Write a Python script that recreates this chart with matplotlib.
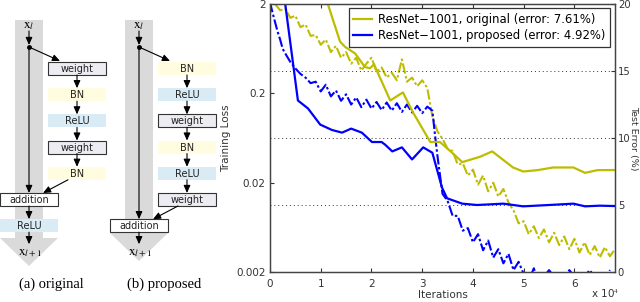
import matplotlib.pyplot as plt
import matplotlib.patches as mpatches
from matplotlib.ticker import NullLocator

plt.rcParams['mathtext.fontset'] = 'stix'

# ---- data ----
# residual unit layouts
unit_original = ['weight', 'BN', 'ReLU', 'weight', 'BN']
unit_proposed = ['BN', 'ReLU', 'weight', 'BN', 'ReLU', 'weight']
captions = ['(a) original', '(b) proposed']

# training loss (left, log axis), iterations in units of 1e4
orig_train_x = [0.1, 0.2, 0.3, 0.4, 0.5, 0.6, 0.7, 0.8, 0.9, 1.0,
                1.1, 1.2, 1.3, 1.4, 1.5, 1.6, 1.7, 1.8, 1.9, 2.0,
                2.1, 2.2, 2.3, 2.4, 2.5, 2.6, 2.7, 2.8, 2.9, 3.0,
                3.1, 3.2, 3.3, 3.4, 3.5, 3.6, 3.7, 3.8, 3.9, 4.0,
                4.1, 4.2, 4.3, 4.4, 4.5, 4.6, 4.7, 4.8, 4.9, 5.0,
                5.1, 5.2, 5.3, 5.4, 5.5, 5.6, 5.7, 5.8, 5.9, 6.0,
                6.1, 6.2, 6.3, 6.4, 6.5, 6.6, 6.7, 6.8]
orig_train_loss = [2.0, 1.70, 1.78, 1.40, 1.48, 1.10, 1.18, 0.88, 0.90, 0.70,
                   0.80, 0.58, 0.68, 0.50, 0.58, 0.43, 0.50, 0.36, 0.43, 0.50,
                   0.35, 0.39, 0.30, 0.34, 0.28, 0.48, 0.27, 0.30, 0.24, 0.28,
                   0.23, 0.11, 0.075, 0.062, 0.048, 0.045, 0.032, 0.033, 0.024, 0.028,
                   0.019, 0.024, 0.016, 0.020, 0.014, 0.017, 0.012, 0.0098, 0.0070, 0.0074,
                   0.0053, 0.0065, 0.0048, 0.0060, 0.0043, 0.0055, 0.0040, 0.0050, 0.0036, 0.0047,
                   0.0033, 0.0043, 0.0031, 0.0039, 0.0029, 0.0038, 0.0030, 0.0036]

prop_train_x = [0.00, 0.05, 0.10, 0.15, 0.20, 0.25, 0.30,
                0.4, 0.5, 0.6, 0.7, 0.8, 0.9, 1.0, 1.1, 1.2, 1.3,
                1.4, 1.5, 1.6, 1.7, 1.8, 1.9, 2.0, 2.1, 2.2, 2.3,
                2.4, 2.5, 2.6, 2.7, 2.8, 2.9, 3.0, 3.1, 3.2,
                3.25, 3.30,
                3.4, 3.5, 3.6, 3.7, 3.8, 3.9, 4.0, 4.1, 4.2, 4.3,
                4.4, 4.5, 4.6, 4.7, 4.8, 4.9, 5.0, 5.1, 5.2, 5.3,
                5.5, 5.7, 5.9, 6.1, 6.3, 6.5, 6.7]
prop_train_loss = [2.1, 1.6, 1.25, 0.98, 0.80, 0.63, 0.56,
                   0.45, 0.38, 0.33, 0.30, 0.26, 0.27, 0.21, 0.25, 0.185, 0.215,
                   0.165, 0.195, 0.15, 0.18, 0.14, 0.17, 0.135, 0.16, 0.13, 0.158,
                   0.128, 0.155, 0.124, 0.15, 0.122, 0.145, 0.12, 0.142, 0.128,
                   0.070, 0.040,
                   0.0150, 0.0125, 0.0085, 0.0085, 0.0058, 0.0062, 0.0043, 0.0053, 0.0035, 0.0045,
                   0.0029, 0.0036, 0.0025, 0.0032, 0.0021, 0.0026, 0.0019, 0.0016, 0.0022, 0.0015,
                   0.0021, 0.0015, 0.0021, 0.0015, 0.0021, 0.0015, 0.0021]

# test error (right axis, %)
orig_err_x = [1.10, 1.14, 1.38, 1.48, 1.68, 1.87, 1.97, 2.05, 2.37, 2.62, 2.82, 3.16, 3.35,
              3.59, 3.79, 4.14, 4.38, 4.79, 4.99, 5.27, 5.58, 5.98, 6.21, 6.45, 6.80]
orig_err = [22.0, 20.0, 17.2, 16.8, 16.3, 15.3, 15.2, 15.5, 12.8, 13.4, 11.9, 9.7, 9.7,
            8.9, 8.2, 8.6, 9.0, 7.8, 7.5, 7.6, 7.8, 7.8, 7.4, 7.6, 7.61]

prop_err_x = [0.20, 0.30, 0.55, 0.75, 0.99, 1.22, 1.42, 1.60, 1.81, 2.01, 2.20, 2.27, 2.41, 2.60,
              2.80, 3.02, 3.20, 3.39, 3.49, 3.79, 4.08, 4.60, 4.99, 5.50, 5.98, 6.21, 6.50, 6.80]
prop_err = [25.0, 20.0, 12.8, 12.2, 11.0, 10.6, 10.4, 10.7, 10.4, 9.7, 9.7, 9.5, 9.0, 9.3,
            8.4, 9.3, 8.9, 6.3, 5.5, 5.1, 5.0, 5.1, 4.9, 5.0, 5.1, 4.9, 4.95, 4.92]

legend_labels = ['ResNet\u22121001, original (error: 7.61%)',
                 'ResNet\u22121001, proposed (error: 4.92%)']

yellow = '#BDBD00'
blue = '#0000FF'

fig = plt.figure(figsize=(6.4, 3.02), dpi=100)

# ---- left: residual unit diagrams (pixel coordinates) ----
dax = fig.add_axes([0, 0, 262 / 640, 1])
dax.set_xlim(0, 262)
dax.set_ylim(302, 0)
dax.axis('off')

fills = {'weight': '#EDECF2', 'BN': '#FFFCE0', 'ReLU': '#D9ECF5', 'addition': 'white'}
band = '#DADADA'


def arrow(x0, y0, x1, y1):
    dax.annotate('', xy=(x1, y1), xytext=(x0, y0),
                 arrowprops=dict(arrowstyle='-|>,head_length=0.45,head_width=0.2',
                                 lw=0.8, color='k', shrinkA=0, shrinkB=0))


def box(x0, y0, w, h, label):
    framed = label in ('weight', 'addition')
    dax.add_patch(mpatches.Rectangle((x0, y0), w, h, facecolor=fills[label],
                                     edgecolor='#333333' if framed else 'none', lw=0.8, zorder=2))
    dax.text(x0 + w / 2, y0 + h / 2 + 0.5, label, ha='center', va='center',
             fontsize=7, color='#222222', zorder=3)


def unit(off, layers, post_relu):
    cx = 29 + off
    bottom = 238 if post_relu else 233
    # gray identity arrow
    dax.add_patch(mpatches.Rectangle((15 + off, 20), 28, bottom - 20, facecolor=band,
                                     edgecolor='none', zorder=1))
    dax.add_patch(mpatches.Polygon([(off, bottom), (58 + off, bottom), (cx, bottom + 28)],
                                   closed=True, facecolor=band, edgecolor='none', zorder=1))
    dax.text(cx, 26, r'$\mathrm{x}_{l}$', ha='center', va='center', fontsize=9.5, zorder=3)
    arrow(cx, 31, cx, 45)
    dax.plot([cx], [47], 'o', color='k', ms=2.5, zorder=4)

    bx, bw, bh, step, top = 48 + off, 58, 13, 26.2, 62
    arrow(cx, 47, bx + 12, top - 1)
    for i, lab in enumerate(layers):
        y = top + i * step
        box(bx, y, bw, bh, lab)
        if i < len(layers) - 1:
            arrow(bx + bw / 2, y + bh, bx + bw / 2, y + step)
    add_y = top + len(layers) * step
    last = top + (len(layers) - 1) * step + bh
    arrow(bx + 20, last, cx + 14, add_y)
    arrow(cx, 47, cx, add_y)
    box(off, add_y, 58, bh, 'addition')
    if post_relu:
        arrow(cx, add_y + bh, cx, add_y + step)
        box(off, add_y + step, 58, bh, 'ReLU')
        out_y = add_y + step + bh
    else:
        out_y = add_y + bh
    arrow(cx, out_y, cx, out_y + 12)
    dax.text(cx + 1, out_y + 20, r'$\mathrm{x}_{l+1}$', ha='center', va='center', fontsize=9.5, zorder=3)


unit(0, unit_original, True)
unit(110, unit_proposed, False)
dax.text(51, 284, captions[0], ha='center', va='center', fontsize=10.5, family='Liberation Serif')
dax.text(164, 284, captions[1], ha='center', va='center', fontsize=10.5, family='Liberation Serif')

# ---- right: training curves ----
ax = fig.add_axes([270 / 640, 30 / 302, 345 / 640, 268 / 302])
ax2 = ax.twinx()

ls_train = (0, (5, 1.2, 1.2, 1.2))
ax.plot(orig_train_x, orig_train_loss, color=yellow, lw=1.5, ls=ls_train)
ax.plot(prop_train_x, prop_train_loss, color=blue, lw=1.5, ls=ls_train)
ax.set_yscale('log')
ax.set_ylim(0.002, 2)
ax.set_yticks([0.002, 0.02, 0.2, 2])
ax.set_yticklabels(['0.002', '0.02', '0.2', '2'])
ax.yaxis.set_minor_locator(NullLocator())
ax.set_xlim(0, 6.8)
ax.set_xticks([0, 1, 2, 3, 4, 5, 6])
ax.tick_params(direction='in', top=True, labelsize=7.5, length=3, colors='#333333', pad=3)
ax.tick_params(axis='x', pad=5)
ax.set_ylabel('Training Loss', fontsize=7.5, color='#333333', labelpad=4)
ax.set_xlabel('Iterations', fontsize=7.5, color='#333333', labelpad=1)

h1, = ax2.plot(orig_err_x, orig_err, color=yellow, lw=1.6)
h2, = ax2.plot(prop_err_x, prop_err, color=blue, lw=1.6)
ax2.set_ylim(0, 20)
ax2.set_yticks([0, 5, 10, 15, 20])
ax2.yaxis.grid(True, ls=(0, (1, 3)), color='#333333', lw=0.7)
ax2.tick_params(direction='in', labelsize=7.2, length=3, colors='#333333', pad=2)
for a in (ax, ax2):
    for s in a.spines.values():
        s.set_color('#444444')
        s.set_linewidth(0.9)

# right axis label placed by hand so it stays inside the canvas
fig.text(634 / 640, 1 - 138 / 302, 'Test Error (%)', rotation=270, ha='center', va='center',
         fontsize=6.8, color='#333333')

leg = ax2.legend([h1, h2], legend_labels, loc='upper right',
                 bbox_to_anchor=(610 / 640, 1 - 8 / 302), bbox_transform=fig.transFigure,
                 fontsize=8.4, fancybox=False, edgecolor='#333333', framealpha=1,
                 borderaxespad=0, handlelength=1.6, handletextpad=0.5,
                 labelspacing=0.3, borderpad=0.4)
leg.get_frame().set_linewidth(0.9)

fig.text(605 / 640, 1 - 294 / 302, r'x 10$^{4}$', ha='center', va='center',
         fontsize=7.5, color='#333333')

fig.savefig('out.png', dpi=100)
